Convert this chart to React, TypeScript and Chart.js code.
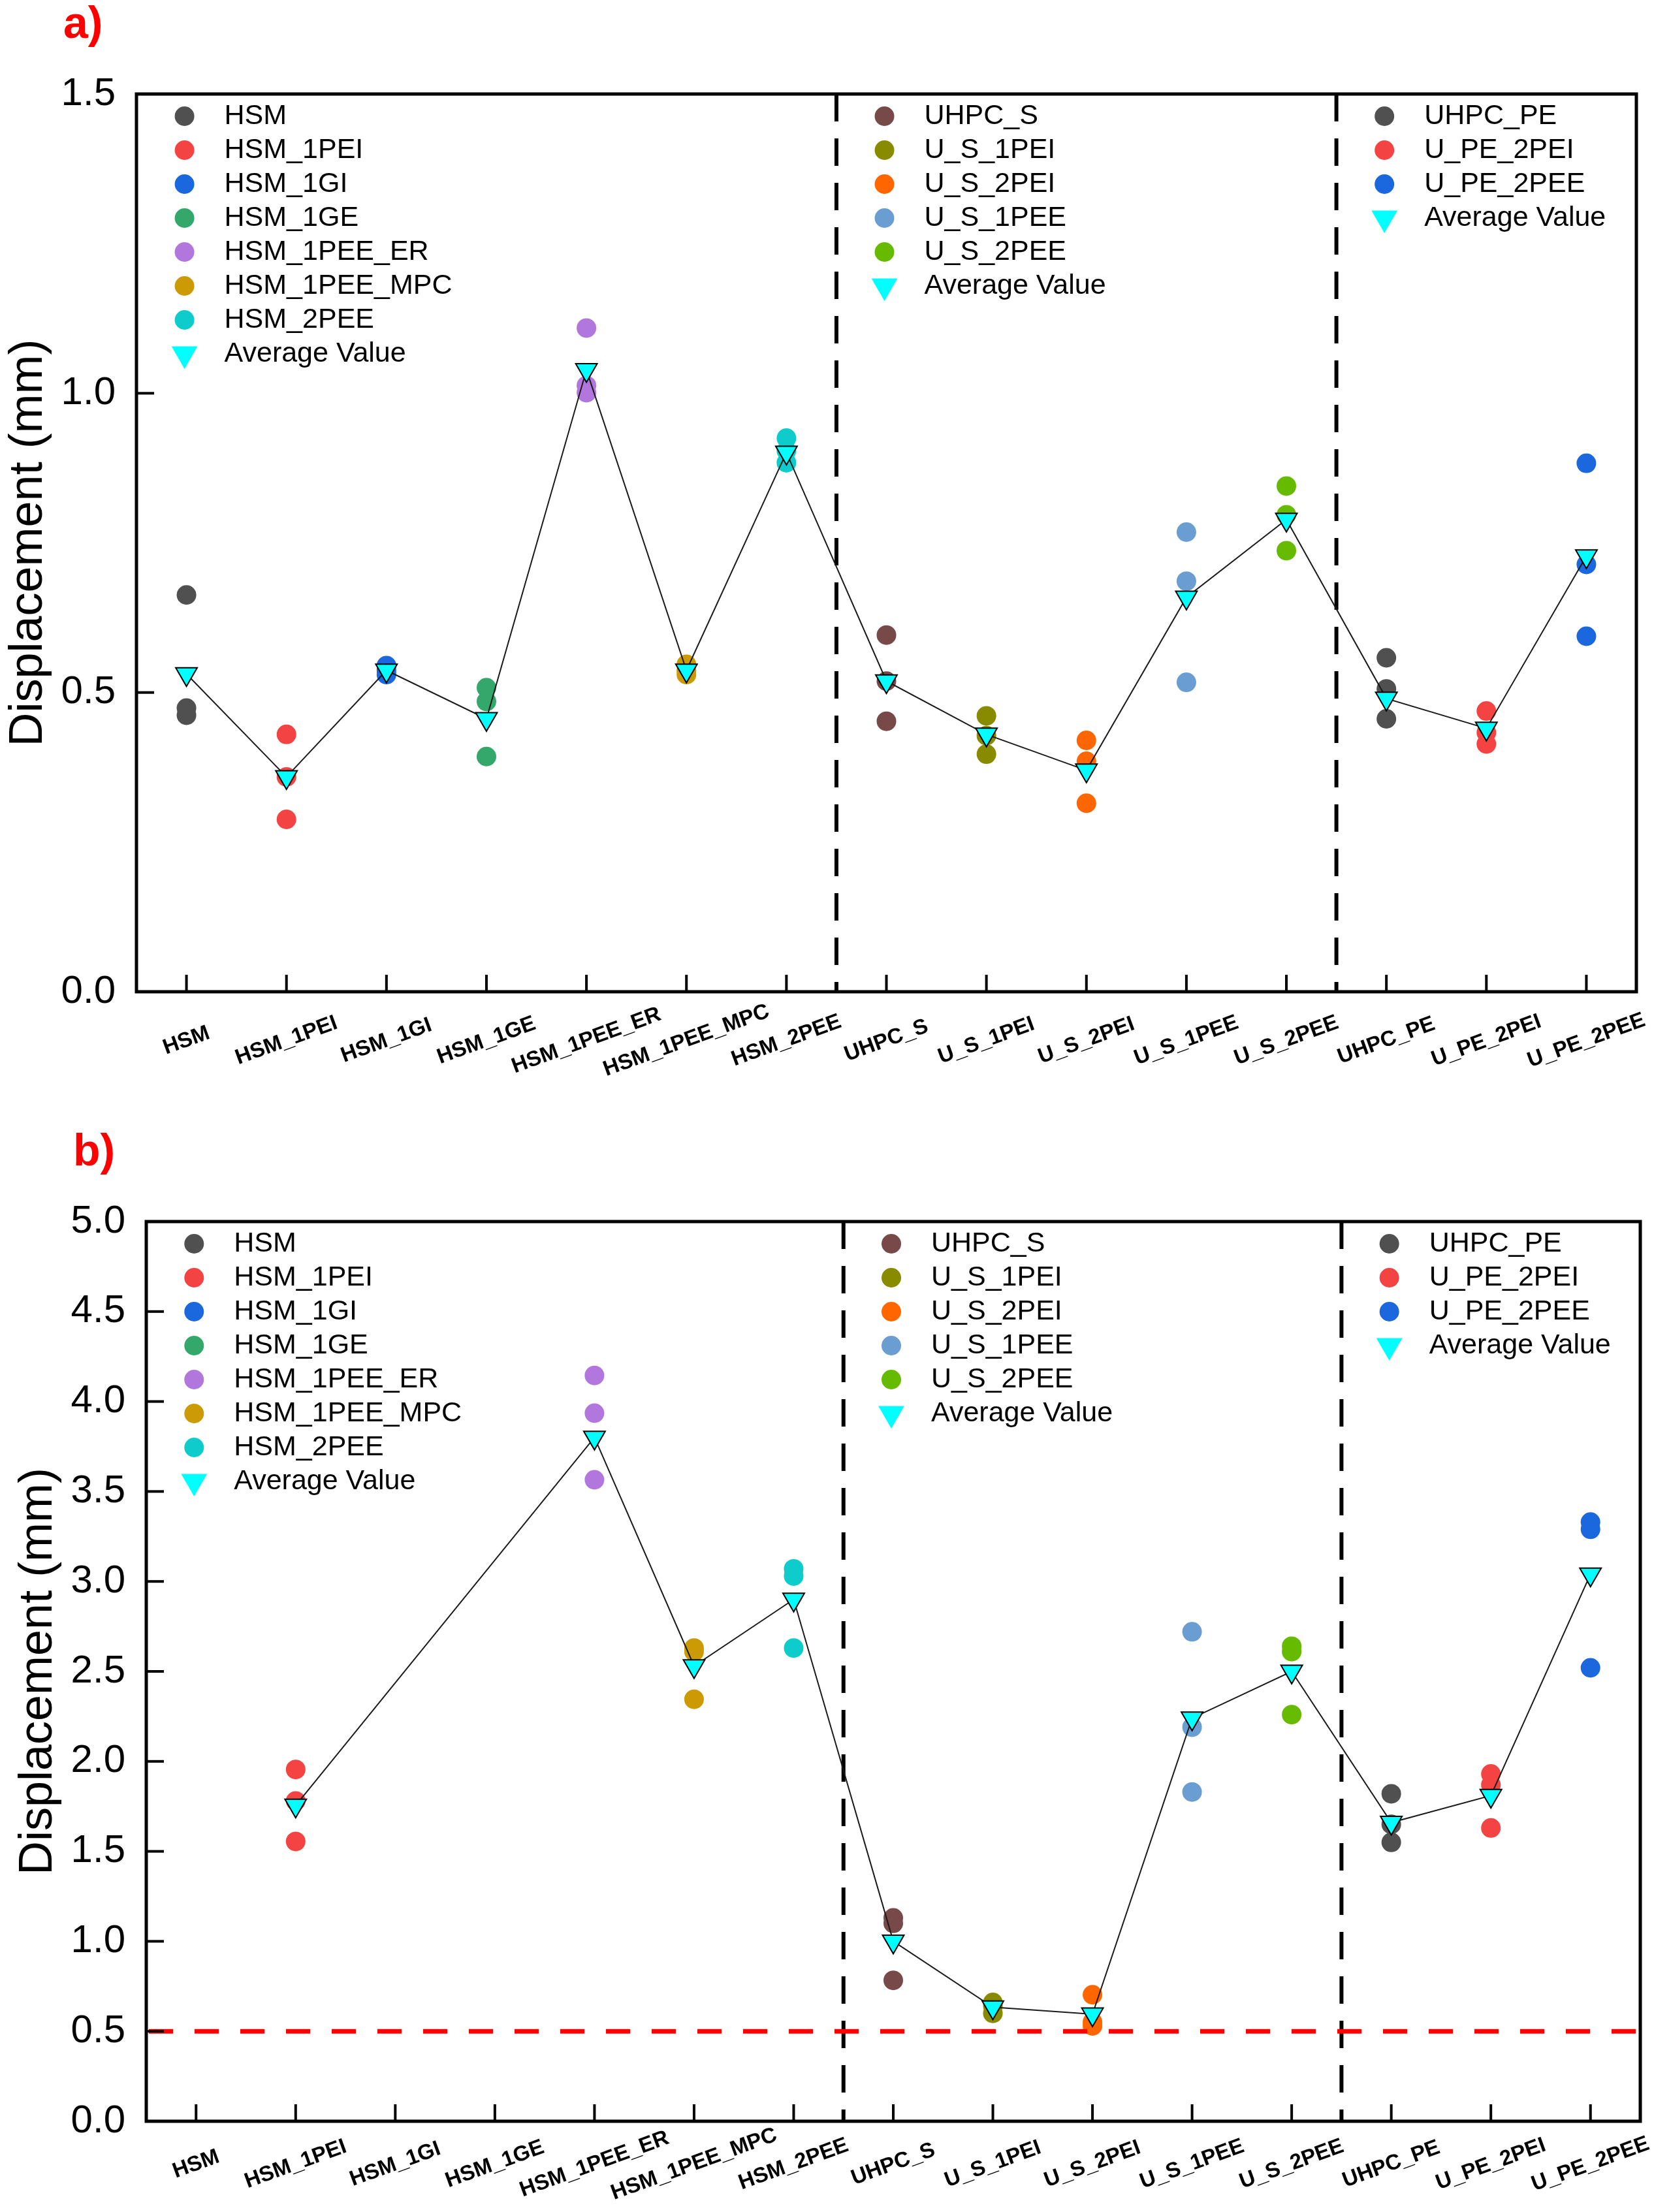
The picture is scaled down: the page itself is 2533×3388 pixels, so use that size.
import React, { useEffect, useRef } from 'react';
import { Chart, registerables } from 'chart.js';

Chart.register(...registerables);

const FONT = "'Liberation Sans', Arial, Helvetica, sans-serif";

const categories = [
  'HSM', 'HSM_1PEI', 'HSM_1GI', 'HSM_1GE', 'HSM_1PEE_ER', 'HSM_1PEE_MPC', 'HSM_2PEE',
  'UHPC_S', 'U_S_1PEI', 'U_S_2PEI', 'U_S_1PEE', 'U_S_2PEE',
  'UHPC_PE', 'U_PE_2PEI', 'U_PE_2PEE',
];

const specimenColors = [
  '#505050', '#f34343', '#1b67de', '#33a86a', '#b277dc', '#cc9a05', '#0ecccc',
  '#784949', '#888a00', '#ff6600', '#6a9ed2', '#66bb00',
  '#505050', '#f34343', '#1b67de',
];

const legendGroups = [
  [0, 1, 2, 3, 4, 5, 6],
  [7, 8, 9, 10, 11],
  [12, 13, 14],
];

// boundaries between groups: between categories 6|7 and 11|12
const separators = [[6, 7], [11, 12]];

const averageLabel = 'Average Value';
const yTitle = 'Displacement (mm)';

// ---------- Panel a ----------
const specimensA: number[][] = [
  [0.663, 0.474, 0.462],
  [0.43, 0.359, 0.288],
  [0.545, 0.537, 0.53],
  [0.508, 0.485, 0.393],
  [1.109, 1.013, 1.001],
  [0.547, 0.537, 0.53],
  [0.925, 0.904, 0.884],
  [0.596, 0.519, 0.452],
  [0.461, 0.428, 0.397],
  [0.42, 0.385, 0.315],
  [0.768, 0.686, 0.517],
  [0.845, 0.797, 0.737],
  [0.558, 0.506, 0.456],
  [0.469, 0.433, 0.414],
  [0.883, 0.714, 0.594],
];
const averageA: (number | null)[] = [
  0.531, 0.359, 0.537, 0.456, 1.039, 0.537, 0.901,
  0.519, 0.43, 0.37, 0.659, 0.789,
  0.49, 0.44, 0.728,
];
const yMaxA = 1.5;

// ---------- Panel b ----------
const specimensB: number[][] = [
  [],
  [1.955, 1.78, 1.555],
  [],
  [],
  [4.145, 3.935, 3.565],
  [2.63, 2.61, 2.345],
  [3.07, 3.03, 2.63],
  [1.13, 1.1, 0.783],
  [0.66, 0.64, 0.6],
  [0.703, 0.551, 0.53],
  [2.72, 2.19, 1.83],
  [2.64, 2.61, 2.26],
  [1.82, 1.65, 1.55],
  [1.93, 1.87, 1.63],
  [3.33, 3.29, 2.52],
];
const averageB: (number | null)[] = [
  null, 1.755, null, null, 3.8, 2.53, 2.9,
  1.0, 0.634, 0.595, 2.24, 2.5,
  1.66, 1.81, 3.04,
];
const yMaxB = 5.0;
const thresholdB = 0.5;

const W = 2533;
const H = 1694;

type PanelProps = {
  values: number[][];
  averages: (number | null)[];
  yMax: number;
  tag: string;
  pad: { left: number; top: number; right: number; bottom: number };
  axisLeft: number;
  labelOffset: number;
  threshold?: number;
};

function Panel({ values, averages, yMax, tag, pad, axisLeft, labelOffset, threshold }: PanelProps) {
  const ref = useRef<HTMLCanvasElement>(null);

  useEffect(() => {
    const canvas = ref.current;
    if (!canvas) return;

    const decor = {
      id: 'decor',
      beforeDatasetsDraw(chart: any) {
        const { ctx, chartArea: a, scales } = chart;
        const x = scales.x;
        ctx.save();
        ctx.strokeStyle = '#000';
        ctx.lineWidth = 6;
        ctx.setLineDash([42, 26]);
        for (const [i, j] of separators) {
          const px = (x.getPixelForValue(i) + x.getPixelForValue(j)) / 2;
          ctx.beginPath();
          ctx.moveTo(px, a.top);
          ctx.lineTo(px, a.bottom);
          ctx.stroke();
        }
        ctx.restore();
      },
      afterDatasetsDraw(chart: any) {
        const { ctx, chartArea: a, scales } = chart;
        const x = scales.x;
        const y = scales.y;
        ctx.save();

        // threshold line
        if (threshold !== undefined) {
          const py = y.getPixelForValue(threshold);
          ctx.strokeStyle = '#ff0000';
          ctx.lineWidth = 7;
          ctx.setLineDash([37, 33]);
          ctx.beginPath();
          ctx.moveTo(a.left + 4, py);
          ctx.lineTo(a.right - 4, py);
          ctx.stroke();
          ctx.setLineDash([]);
        }

        // frame
        ctx.setLineDash([]);
        ctx.strokeStyle = '#000';
        ctx.lineWidth = 5;
        ctx.strokeRect(a.left, a.top, a.right - a.left, a.bottom - a.top);

        // inward ticks
        ctx.lineWidth = 4;
        categories.forEach((_, i) => {
          const px = x.getPixelForValue(i);
          ctx.beginPath();
          ctx.moveTo(px, a.bottom);
          ctx.lineTo(px, a.bottom - 26);
          ctx.stroke();
        });
        y.ticks.forEach((t: any) => {
          const py = y.getPixelForValue(t.value);
          ctx.beginPath();
          ctx.moveTo(a.left, py);
          ctx.lineTo(a.left + 27, py);
          ctx.stroke();
        });

        // rotated category labels, centred under ticks
        ctx.fillStyle = '#000';
        ctx.font = `bold 33px ${FONT}`;
        ctx.textAlign = 'center';
        ctx.textBaseline = 'middle';
        categories.forEach((c, i) => {
          const px = x.getPixelForValue(i);
          ctx.save();
          ctx.translate(px, a.bottom + labelOffset);
          ctx.rotate((-20 * Math.PI) / 180);
          ctx.fillText(c, 0, 0);
          ctx.restore();
        });

        // legends
        ctx.font = `43px ${FONT}`;
        ctx.textAlign = 'left';
        ctx.textBaseline = 'middle';
        legendGroups.forEach((group) => {
          const mx = x.getPixelForValue(group[0]) - 3;
          const rows = [...group.map((k) => ({ label: categories[k], color: specimenColors[k], tri: false })),
            { label: averageLabel, color: '#00ffff', tri: true }];
          rows.forEach((r, k) => {
            const ry = a.top + 34 + k * 52;
            ctx.fillStyle = r.color;
            ctx.beginPath();
            if (r.tri) {
              const R = 23;
              ctx.moveTo(mx - R * Math.sin(Math.PI / 3), ry - R / 2);
              ctx.lineTo(mx + R * Math.sin(Math.PI / 3), ry - R / 2);
              ctx.lineTo(mx, ry + R);
              ctx.closePath();
            } else {
              ctx.arc(mx, ry, 15, 0, Math.PI * 2);
            }
            ctx.fill();
            ctx.fillStyle = '#000';
            ctx.fillText(r.label, mx + 61, ry);
          });
        });

        // panel tag
        ctx.fillStyle = '#ff0000';
        ctx.font = `bold 68px ${FONT}`;
        ctx.textAlign = 'left';
        ctx.textBaseline = 'alphabetic';
        ctx.fillText(tag, a.left - 112, a.top - 86);

        ctx.restore();
      },
    };

    const datasets: any[] = [
      {
        label: averageLabel,
        data: averages,
        borderColor: '#1a1a1a',
        borderWidth: 2,
        tension: 0,
        spanGaps: true,
        pointStyle: 'triangle',
        pointRotation: 180,
        pointRadius: 19,
        pointHoverRadius: 19,
        pointBackgroundColor: '#00ffff',
        pointBorderColor: '#000000',
        pointBorderWidth: 2,
      },
      ...categories.map((c, i) => ({
        label: c,
        data: values[i].map((v) => ({ x: c, y: v })),
        showLine: false,
        borderColor: specimenColors[i],
        backgroundColor: specimenColors[i],
        pointStyle: 'circle',
        pointRadius: 15,
        pointHoverRadius: 15,
        pointBackgroundColor: specimenColors[i],
        pointBorderWidth: 0,
      })),
    ];

    const chart = new Chart(canvas, {
      type: 'line',
      data: { labels: categories, datasets },
      options: {
        animation: false,
        responsive: false,
        devicePixelRatio: 1,
        events: [],
        layout: { padding: pad },
        plugins: {
          legend: { display: false },
          tooltip: { enabled: false },
          title: { display: false },
        },
        scales: {
          x: {
            type: 'category',
            offset: true,
            grid: { display: false, drawTicks: false },
            border: { display: false },
            ticks: { display: false },
          },
          y: {
            min: 0,
            max: yMax,
            grid: { display: false, drawTicks: false },
            border: { display: false },
            afterFit: (s: any) => {
              s.width = axisLeft - pad.left;
            },
            ticks: {
              stepSize: 0.5,
              padding: 32,
              color: '#000',
              font: { family: FONT, size: 60 },
              callback: (v: any) => Number(v).toFixed(1),
            },
            title: {
              display: true,
              text: yTitle,
              color: '#000',
              font: { family: FONT, size: 72 },
              padding: { top: 1, bottom: 10 },
            },
          },
        },
      } as any,
      plugins: [decor],
    });

    return () => chart.destroy();
  }, []);

  return <canvas ref={ref} width={W} height={H} style={{ display: 'block', width: W, height: H }} />;
}

export default function App() {
  return (
    <div style={{ position: 'absolute', left: 0, top: 0, width: W, height: H * 2, background: '#fff' }}>
      <Panel
        values={specimensA}
        averages={averageA}
        yMax={yMaxA}
        tag="a)"
        pad={{ left: 0, top: 144, right: 27, bottom: 175 }}
        axisLeft={209}
        labelOffset={75}
      />
      <Panel
        values={specimensB}
        averages={averageB}
        yMax={yMaxB}
        tag="b)"
        pad={{ left: 15, top: 177, right: 12, bottom: 139 }}
        axisLeft={224}
        labelOffset={66}
        threshold={thresholdB}
      />
    </div>
  );
}
